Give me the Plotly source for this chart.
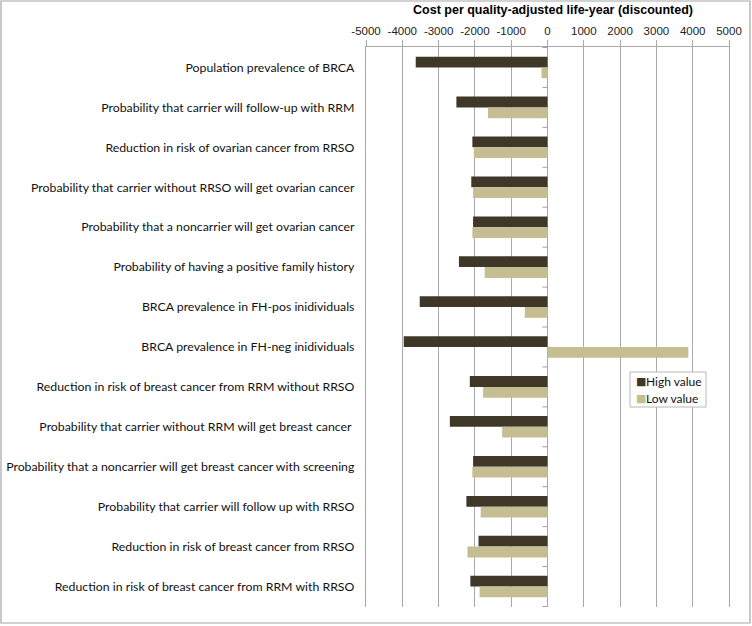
import plotly.graph_objects as go

categories = [
    "Population prevalence of BRCA",
    "Probability that carrier will follow-up with RRM",
    "Reduction in risk of ovarian cancer from RRSO",
    "Probability that carrier without RRSO will get ovarian cancer",
    "Probability that a noncarrier will get ovarian cancer",
    "Probability of having a positive family history",
    "BRCA prevalence in FH-pos inidividuals",
    "BRCA prevalence in FH-neg inidividuals",
    "Reduction in risk of breast cancer from RRM without RRSO",
    "Probability that carrier without RRM will get breast cancer ",
    "Probability that a noncarrier will get breast cancer with screening",
    "Probability that carrier will follow up with RRSO",
    "Reduction in risk of breast cancer from RRSO",
    "Reduction in risk of breast cancer from RRM with RRSO",
]
high_value = [-3630, -2510, -2070, -2100, -2050, -2440, -3520, -3960,
              -2140, -2690, -2050, -2235, -1900, -2125]
low_value = [-165, -1640, -2030, -2050, -2070, -1730, -625, 3880,
             -1775, -1250, -2070, -1840, -2205, -1870]
x_ticks = [-5000, -4000, -3000, -2000, -1000, 0, 1000, 2000, 3000, 4000, 5000]
series_names = ["High value", "Low value"]
series_colors = ["#3f3828", "#c6be93"]

W, H = 752, 626
L, R, T, B = 366, 23, 47, 19
pw, ph = W - L - R, H - T - B


def px_x(x):
    return (x - L) / pw


def px_y(y):
    return (H - B - y) / ph


fig = go.Figure()
for name, vals, col in zip(series_names, [high_value, low_value], series_colors):
    fig.add_trace(go.Bar(y=categories, x=vals, orientation="h", name=name,
                         marker=dict(color=col, line=dict(width=0))))

shapes = []
# outer chart border
shapes.append(dict(type="rect", xref="paper", yref="paper",
                   x0=px_x(1), x1=px_x(750), y0=px_y(623), y1=px_y(1),
                   line=dict(color="#a6a6a6", width=1.2), layer="below"))
# category boundary tick marks on the zero line
for i in range(len(categories) + 1):
    shapes.append(dict(type="line", xref="x", yref="y", x0=-140, x1=0,
                       y0=i - 0.5, y1=i - 0.5, line=dict(color="#a0a0a0", width=1)))
# legend box
shapes.append(dict(type="rect", xref="paper", yref="paper",
                   x0=px_x(630), x1=px_x(706), y0=px_y(407), y1=px_y(372),
                   line=dict(color="#b8b8b8", width=1), fillcolor="white"))

annotations = []
for k, (name, col) in enumerate(zip(series_names, series_colors)):
    yy = px_y(381 + 17 * k)
    annotations.append(dict(xref="paper", yref="paper", x=px_x(634), y=yy,
                            xanchor="left", yanchor="middle", showarrow=False,
                            text=f"<span style='color:{col}'>■</span>",
                            font=dict(size=11, family="DejaVu Sans")))
    annotations.append(dict(xref="paper", yref="paper", x=px_x(644), y=yy,
                            xanchor="left", yanchor="middle", showarrow=False,
                            text=name, font=dict(size=12, family="Lato, sans-serif", color="#111")))

fig.update_layout(shapes=shapes, annotations=annotations)

fig.update_layout(
    width=W, height=H,
    margin=dict(l=L, r=R, t=T, b=B, autoexpand=False),
    paper_bgcolor="white", plot_bgcolor="white",
    barmode="group", bargap=0.46, bargroupgap=0,
    font=dict(family="Liberation Sans, Arial", color="#000000"),
    title=dict(text="<b>Cost per quality-adjusted life-year (discounted)</b>",
               x=553 / W, xanchor="center", y=1 - 10 / H, yanchor="middle",
               font=dict(size=12.5, family="Liberation Sans, Arial", color="#000")),
    showlegend=False,
)
fig.update_xaxes(
    side="top", range=[-5000, 5000], tickvals=x_ticks,
    ticktext=[str(v) for v in x_ticks],
    showgrid=True, gridcolor="#a9a9a9", gridwidth=1.3,
    zeroline=True, zerolinecolor="#a9a9a9", zerolinewidth=1.3,
    showline=True, linecolor="#a9a9a9", linewidth=1,
    ticks="outside", ticklen=6, tickcolor="#a9a9a9",
    tickfont=dict(size=11.5, family="Liberation Sans, Arial", color="#222"),
    fixedrange=True,
)
fig.update_yaxes(
    autorange="reversed", type="category",
    showgrid=False, showline=True, mirror=True, linecolor="#a9a9a9", linewidth=1.3,
    ticks="", ticklabelstandoff=8,
    tickfont=dict(size=12.3, family="Lato, sans-serif", color="#111"),
    fixedrange=True,
)

fig.write_html("out.html", config={"displayModeBar": False},
               post_script="document.body.style.margin='0';")
